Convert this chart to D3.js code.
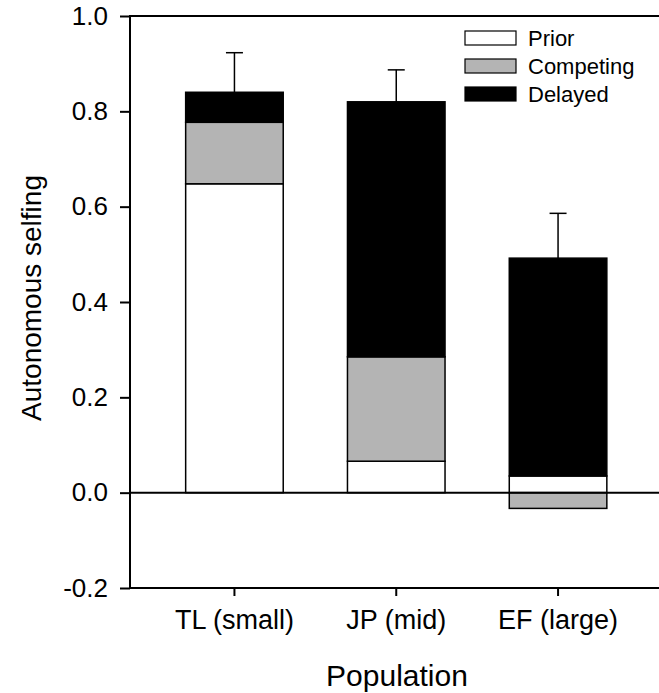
<!DOCTYPE html>
<html>
<head>
<meta charset="utf-8">
<script src="https://cdn.jsdelivr.net/npm/d3@7"></script>
<style>
  body { margin: 0; background: #fff; }
  svg { display: block; font-family: Arial, "Liberation Sans", sans-serif; }
</style>
</head>
<body>
<div id="chart"></div>
<script>
// data
const populations = ["TL (small)", "JP (mid)", "EF (large)"];
const components = ["Prior", "Competing", "Delayed"];
const prior = [0.648, 0.066, 0.035];
const competing = [0.129, 0.219, -0.033];
const delayed = [0.063, 0.535, 0.457];
const stdErr = [0.083, 0.067, 0.094];
const yTicks = [-0.2, 0, 0.2, 0.4, 0.6, 0.8, 1.0];
const fills = { "Prior": "#ffffff", "Competing": "#b4b4b4", "Delayed": "#000000" };

const width = 659, height = 693;
const m = { left: 130, right: 662.5, top: 16, bottom: 588 };

const rows = populations.map((p, i) => ({
  pop: p, Prior: prior[i], Competing: competing[i], Delayed: delayed[i], se: stdErr[i]
}));

const svg = d3.select('#chart').append('svg')
  .attr('width', width)
  .attr('height', height);

const x = d3.scaleBand()
  .domain(populations)
  .range([m.left, m.right])
  .paddingInner(0.397)
  .paddingOuter(0.344);

const y = d3.scaleLinear()
  .domain([-0.2, 1.0])
  .range([m.bottom, m.top]);

const series = d3.stack()
  .keys(components)
  .offset(d3.stackOffsetDiverging)(rows);

// bars
svg.append('g')
  .selectAll('g')
  .data(series)
  .join('g')
    .attr('fill', d => fills[d.key])
  .selectAll('rect')
  .data(d => d)
  .join('rect')
    .attr('x', d => x(d.data.pop))
    .attr('width', x.bandwidth())
    .attr('y', d => y(Math.max(d[0], d[1])))
    .attr('height', d => Math.abs(y(d[0]) - y(d[1])))
    .attr('stroke', '#000')
    .attr('stroke-width', 1.5);

// error bars (upward only)
const totals = rows.map(r => components.reduce((s, k) => s + Math.max(0, r[k]), 0));
const eb = svg.append('g').attr('stroke', '#000').attr('stroke-width', 1.5);
rows.forEach((r, i) => {
  const cx = x(r.pop) + x.bandwidth() / 2;
  eb.append('line')
    .attr('x1', cx).attr('x2', cx)
    .attr('y1', y(totals[i])).attr('y2', y(totals[i] + r.se));
  eb.append('line')
    .attr('x1', cx - 8.5).attr('x2', cx + 8.5)
    .attr('y1', y(totals[i] + r.se)).attr('y2', y(totals[i] + r.se));
});

// zero line
svg.append('line')
  .attr('x1', m.left).attr('x2', m.right)
  .attr('y1', y(0)).attr('y2', y(0))
  .attr('stroke', '#000').attr('stroke-width', 2);

// frame
svg.append('rect')
  .attr('x', m.left).attr('y', m.top)
  .attr('width', m.right - m.left).attr('height', m.bottom - m.top)
  .attr('fill', 'none').attr('stroke', '#000').attr('stroke-width', 2);

// y axis
const yAxis = svg.append('g')
  .attr('transform', `translate(${m.left},0)`)
  .call(d3.axisLeft(y).tickValues(yTicks).tickSize(10).tickPadding(12)
    .tickFormat(d => d3.format('.1f')(d).replace('\u2212', '-')));
yAxis.select('.domain').remove();
yAxis.selectAll('line').attr('stroke-width', 2);
yAxis.selectAll('text').attr('font-size', 26).attr('fill', '#000')
  .attr('font-family', 'Arial, "Liberation Sans", sans-serif');

// x axis
const xAxis = svg.append('g')
  .attr('transform', `translate(0,${m.bottom})`)
  .call(d3.axisBottom(x).tickSize(8).tickPadding(14));
xAxis.select('.domain').remove();
xAxis.selectAll('line').attr('stroke-width', 2);
xAxis.selectAll('text').attr('font-size', 27).attr('fill', '#000')
  .attr('font-family', 'Arial, "Liberation Sans", sans-serif');

// axis titles
svg.append('text')
  .attr('x', 397).attr('y', 686)
  .attr('text-anchor', 'middle')
  .attr('font-size', 30)
  .text('Population');

svg.append('text')
  .attr('transform', 'translate(41,298) rotate(-90)')
  .attr('text-anchor', 'middle')
  .attr('font-size', 28)
  .text('Autonomous selfing');

// legend
const legend = svg.append('g');
components.forEach((k, i) => {
  const ly = 38 + i * 28;
  legend.append('rect')
    .attr('x', 465).attr('y', ly - 7)
    .attr('width', 51).attr('height', 14)
    .attr('fill', fills[k]).attr('stroke', '#000').attr('stroke-width', 1.2);
  legend.append('text')
    .attr('x', 528).attr('y', ly)
    .attr('dy', '0.35em')
    .attr('font-size', 22)
    .text(k);
});
</script>
</body>
</html>
